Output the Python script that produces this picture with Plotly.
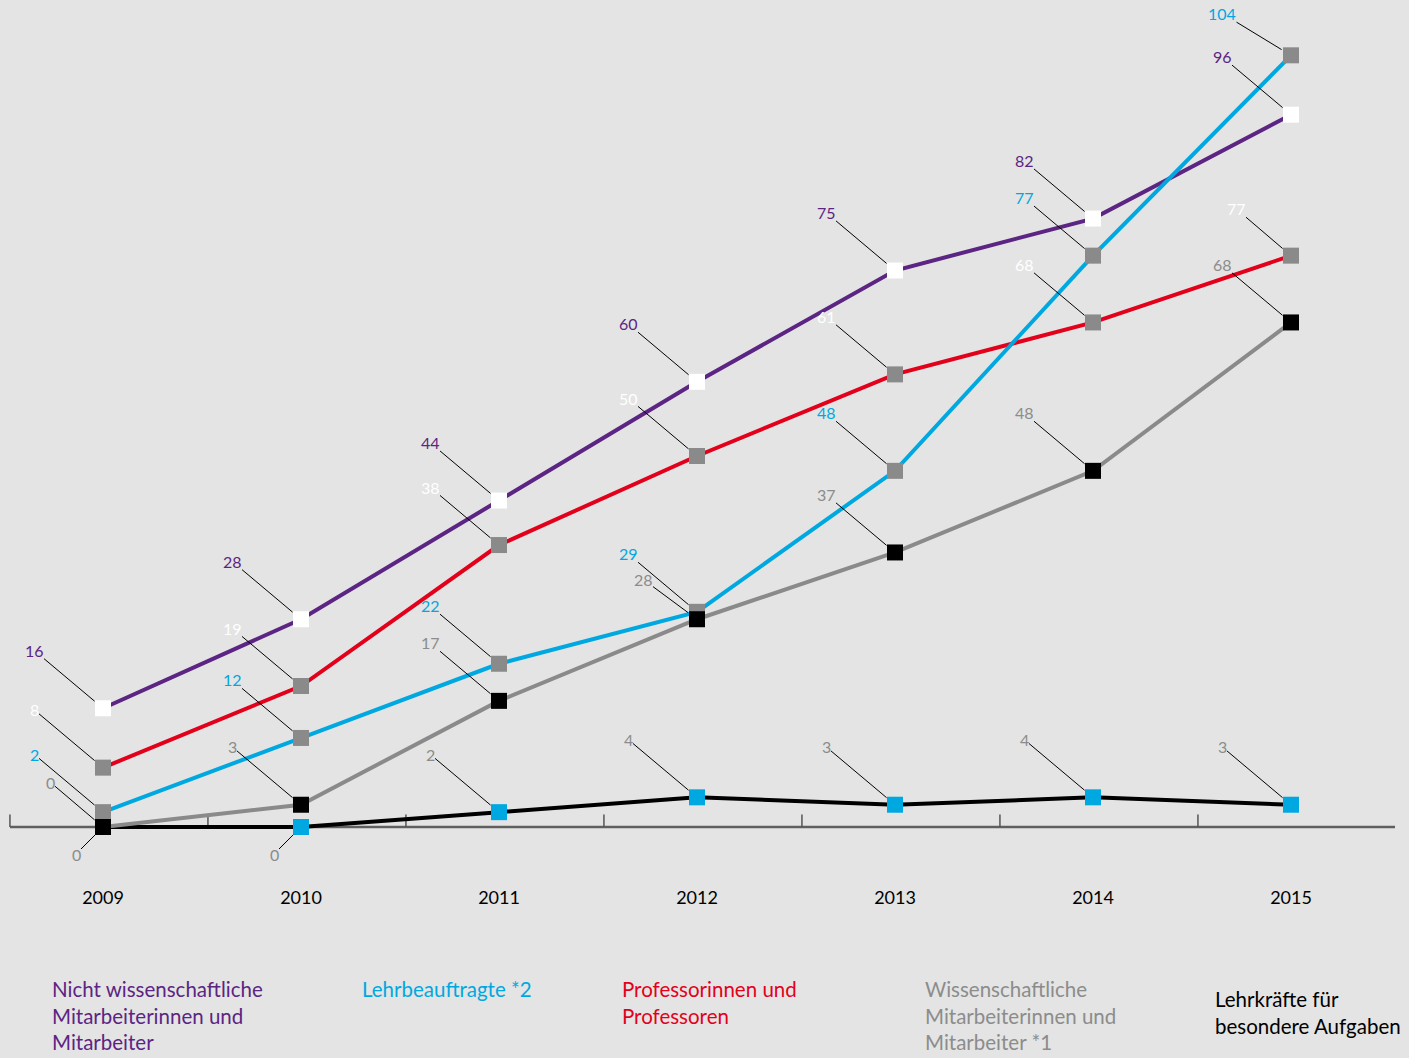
import plotly.graph_objects as go

years = [2009, 2010, 2011, 2012, 2013, 2014, 2015]

nicht_wiss = [16, 28, 44, 60, 75, 82, 96]
lehrbeauftragte = [2, 12, 22, 29, 48, 77, 104]
professoren = [8, 19, 38, 50, 61, 68, 77]
wiss_mitarbeiter = [0, 3, 17, 28, 37, 48, 68]
lehrkraefte = [0, 0, 2, 4, 3, 4, 3]

legend_names = [
    "Nicht wissenschaftliche<br>Mitarbeiterinnen und<br>Mitarbeiter",
    "Lehrbeauftragte *2",
    "Professorinnen und<br>Professoren",
    "Wissenschaftliche<br>Mitarbeiterinnen und<br>Mitarbeiter *1",
    "Lehrkräfte für<br>besondere Aufgaben",
]

BG = "#e3e4e3"
PURPLE = "#5c2483"
CYAN = "#00a8e1"
RED = "#e3001b"
GRAY = "#8a8a8a"
LABELGRAY = "#8c8c8c"
BLACK = "#000000"
FONT = "Lato, 'Noto Sans', sans-serif"

W, H = 1409, 1058
MB = 178
PLOT_H = H - MB
STEP = 198.0

# series: (values, line colour, marker colour, label colour)
series = [
    ("lehrkraefte", lehrkraefte, BLACK, CYAN, LABELGRAY),
    ("prof", professoren, RED, GRAY, "#ffffff"),
    ("nicht", nicht_wiss, PURPLE, "#ffffff", PURPLE),
    ("lehrb", lehrbeauftragte, CYAN, GRAY, CYAN),
    ("wiss", wiss_mitarbeiter, GRAY, BLACK, LABELGRAY),
]

fig = go.Figure()
for name, vals, lc, mc, _ in series:
    fig.add_trace(go.Scatter(
        x=years, y=vals, mode="lines+markers",
        line=dict(color=lc, width=4),
        marker=dict(symbol="square", size=16, color=mc, line=dict(width=0)),
        hoverinfo="skip", showlegend=False,
    ))

# label offsets (pixels) -- default and special cases
DEF = (-69, -58)
special = {
    ("wiss", 0): (-53, -45),
    ("wiss", 3): (-54, -40),
    ("prof", 6): (-55, -47),
    ("lehrb", 6): (-69, -42),
    ("lehrkraefte", 0): (-27, 27),
    ("lehrkraefte", 1): (-27, 27),
}

annotations = []
for name, vals, lc, mc, tc in series:
    for i, (x, v) in enumerate(zip(years, vals)):
        ax, ay = special.get((name, i), DEF)
        annotations.append(dict(
            x=x, y=v, xref="x", yref="y", text=str(v),
            showarrow=True, arrowhead=0, arrowwidth=1, arrowcolor="#000000",
            ax=ax, ay=ay, standoff=11, borderpad=0,
            font=dict(family=FONT, size=16, color=tc),
        ))

# legend texts at the bottom
leg_x = [50, 360, 620, 923, 1213]
leg_top = [975, 975, 975, 975, 985]
leg_col = [PURPLE, CYAN, RED, LABELGRAY, BLACK]
for txt, px, pt, col in zip(legend_names, leg_x, leg_top, leg_col):
    annotations.append(dict(
        x=px / W, y=(PLOT_H - pt) / PLOT_H, xref="paper", yref="paper",
        xanchor="left", yanchor="top", align="left", showarrow=False,
        text=txt, font=dict(family=FONT, size=20.5, color=col),
    ))

px_per_unit = 7.42
zero_px = 827
y_top = zero_px / px_per_unit
y_bot = -(PLOT_H - zero_px) / px_per_unit
x0 = 2009 - 103 / STEP
x1 = 2009 + (W - 103) / STEP

shapes = [dict(type="line", xref="x", yref="y",
               x0=x0 + 10 / STEP, x1=x0 + 1395 / STEP, y0=0, y1=0,
               line=dict(color="#5f5f5f", width=2.5), layer="below")]
for yr in years:
    xt = yr - 0.47
    shapes.append(dict(type="line", xref="x", yref="y",
                       x0=xt, x1=xt, y0=0, y1=1.7,
                       line=dict(color="#555555", width=1.5), layer="below"))

fig.update_layout(
    width=W, height=H,
    margin=dict(l=0, r=0, t=0, b=MB),
    paper_bgcolor=BG, plot_bgcolor=BG,
    xaxis=dict(range=[x0, x1], tickvals=years, ticktext=[str(y) for y in years],
               showgrid=False, zeroline=False, showline=False, ticks="",
               tickfont=dict(family=FONT, size=18, color="#000000"),
               ticklabelstandoff=5, fixedrange=True),
    yaxis=dict(range=[y_bot, y_top], showgrid=False, zeroline=False,
               showticklabels=False, showline=False, ticks="", fixedrange=True),
    annotations=annotations,
    shapes=shapes,
)

fig.write_html("out.html", config={"displayModeBar": False})
